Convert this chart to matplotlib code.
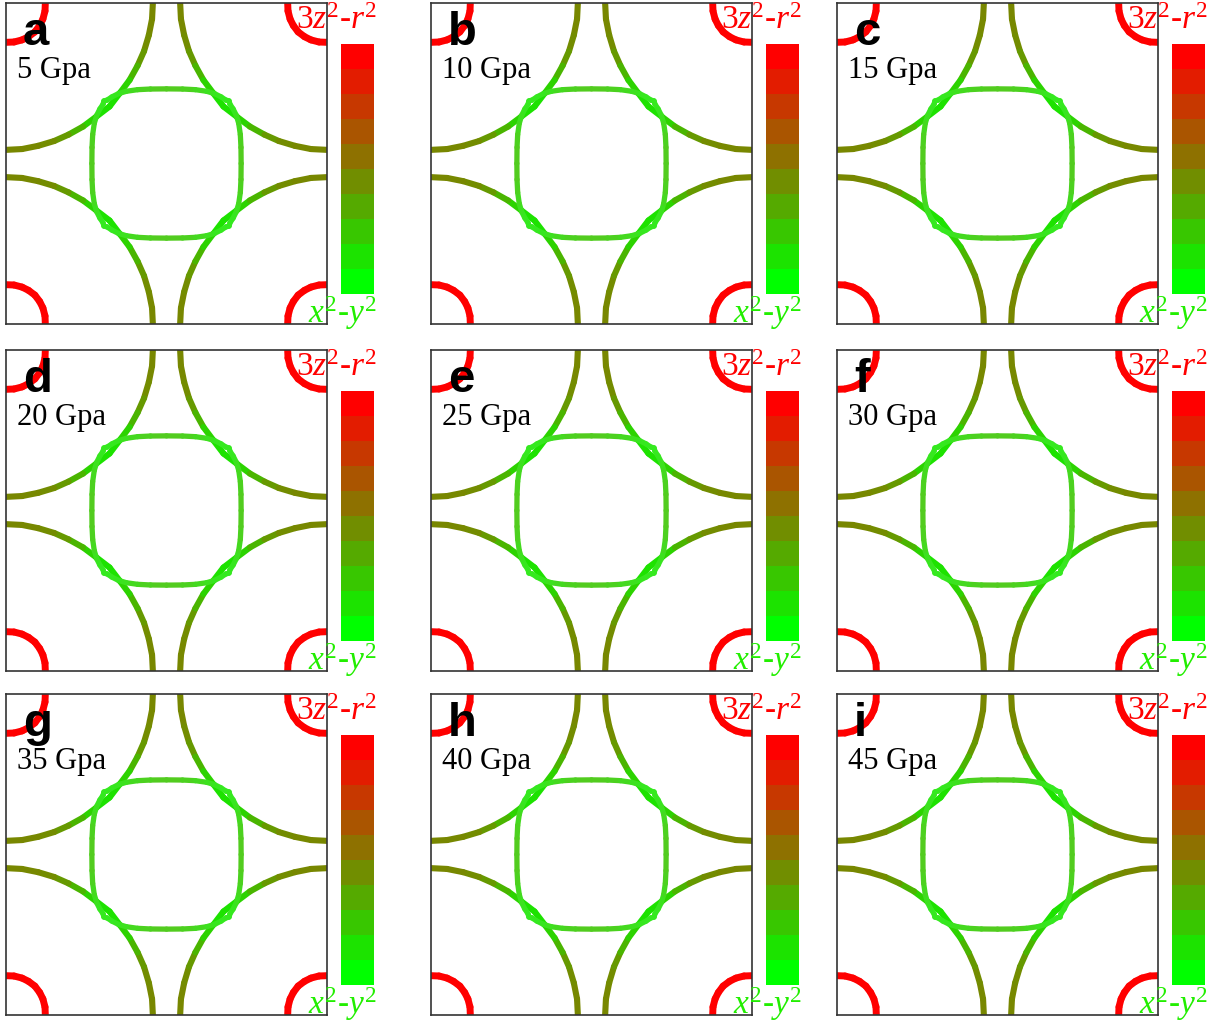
import numpy as np
import matplotlib
matplotlib.use('Agg')
import matplotlib.pyplot as plt
import matplotlib as mpl
from matplotlib.collections import LineCollection
from matplotlib.colors import LinearSegmentedColormap, ListedColormap, Normalize

plt.rcParams['mathtext.fontset'] = 'custom'
plt.rcParams['mathtext.rm'] = 'Liberation Serif'
plt.rcParams['mathtext.it'] = 'Liberation Serif:italic'

# ---------------- data ----------------
pressures = [5, 10, 15, 20, 25, 30, 35, 40, 45]
letters = ['a', 'b', 'c', 'd', 'e', 'f', 'g', 'h', 'i']

# Fermi sheets, one octant each (k in units of pi) + 3z2-r2 orbital weight
# large sheet centred at M (1,1): from zone edge to the diagonal
m_kx = [0.085, 0.09, 0.11, 0.14, 0.18, 0.23, 0.29, 0.355]
m_ky = [1.00, 0.90, 0.80, 0.70, 0.61, 0.52, 0.44, 0.355]
m_w = [0.47, 0.47, 0.46, 0.44, 0.36, 0.22, 0.13, 0.10]

# rounded square centred at Gamma: from kx=0 to the diagonal
g_kx = [0.0, 0.10, 0.18, 0.25, 0.30, 0.34, 0.37, 0.39]
g_ky = [0.465, 0.464, 0.46, 0.45, 0.435, 0.415, 0.395, 0.39]
g_w = [0.24, 0.22, 0.19, 0.15, 0.12, 0.10, 0.10, 0.10]

# small 3z2-r2 pocket at M corner
p_kx = [0.755, 0.757, 0.77, 0.79, 0.82]
p_ky = [1.00, 0.95, 0.90, 0.86, 0.82]
p_w = [1.0, 1.0, 1.0, 1.0, 1.0]

top_label = '3$z^2$-$r^2$'
bottom_label = '$x^2$-$y^2$'

# ---------------- style ----------------
cmap = LinearSegmentedColormap.from_list('orb', ['#00ff00', '#ff0000'])
cb_cmap = ListedColormap(cmap(np.linspace(0, 1, 10)))
norm = Normalize(0, 1)

W, H = 1225, 1029
fig = plt.figure(figsize=(W / 100, H / 100), dpi=100)
fig.patch.set_facecolor('white')

col_left = [6, 431, 837]
row_top = [3, 350, 694]
aw, ah = 321, 321


def pieces(kx, ky, w):
    kx = np.asarray(kx, float)
    ky = np.asarray(ky, float)
    w = np.asarray(w, float)
    qx = np.concatenate([kx, ky[::-1][1:]])
    qy = np.concatenate([ky, kx[::-1][1:]])
    qw = np.concatenate([w, w[::-1][1:]])
    out = []
    for sx in (1, -1):
        for sy in (1, -1):
            out.append((sx * qx, sy * qy, qw))
    return out


def add_sheet(ax, kx, ky, w, lw, light=0.0):
    for x, y, ww in pieces(kx, ky, w):
        pts = np.column_stack([x, y])
        segs = np.stack([pts[:-1], pts[1:]], axis=1)
        cols = cmap(norm((ww[:-1] + ww[1:]) / 2))
        cols[:, :3] = cols[:, :3] * (1 - light) + light
        lc = LineCollection(segs, colors=cols, linewidths=lw,
                            capstyle='round', joinstyle='round')
        ax.add_collection(lc)


for i in range(9):
    r, c = divmod(i, 3)
    L = col_left[c]
    T = row_top[r]
    ax = fig.add_axes([L / W, 1 - (T + ah) / H, aw / W, ah / H])
    ax.set_xlim(-1, 1)
    ax.set_ylim(-1, 1)
    ax.set_xticks([])
    ax.set_yticks([])
    for s in ax.spines.values():
        s.set_color('#333333')
        s.set_linewidth(1.2)

    add_sheet(ax, m_kx, m_ky, m_w, 4.4)
    add_sheet(ax, g_kx, g_ky, g_w, 3.8, light=0.12)
    add_sheet(ax, p_kx, p_ky, p_w, 5.0)

    ax.text(0.053, 0.869, letters[i], transform=ax.transAxes,
            fontsize=34, fontweight='bold', family='Liberation Sans',
            ha='left', va='baseline', color='black', zorder=5)
    ax.text(0.034, 0.766, f'{pressures[i]} Gpa', transform=ax.transAxes,
            fontsize=22, family='Liberation Serif',
            ha='left', va='baseline', color='black', zorder=5)

    cax = fig.add_axes([(L + 335) / W, 1 - (T + 41 + 250) / H, 33 / W, 250 / H])
    cb = mpl.colorbar.ColorbarBase(cax, cmap=cb_cmap, norm=norm,
                                   orientation='vertical')
    cb.outline.set_visible(False)
    cax.set_xticks([])
    cax.set_yticks([])
    cax.text(1.09, 1.06, top_label, transform=cax.transAxes,
             fontsize=24, family='Liberation Serif', color='#ff0000',
             ha='right', va='baseline')
    cax.text(1.09, -0.116, bottom_label, transform=cax.transAxes,
             fontsize=24, family='Liberation Serif', color='#22ee00',
             ha='right', va='baseline')

fig.savefig('out.png', dpi=100, facecolor='white')
